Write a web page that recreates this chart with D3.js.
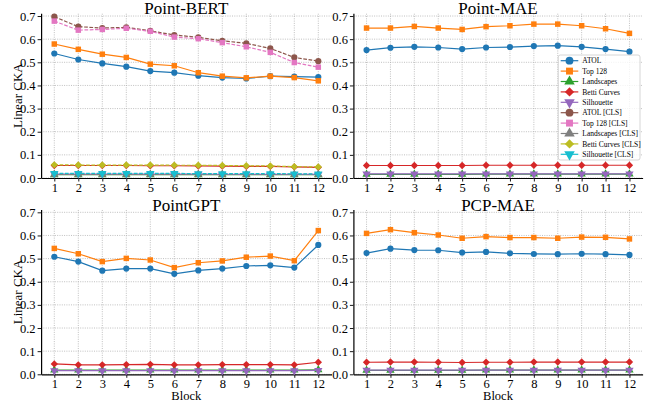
<!DOCTYPE html>
<html><head><meta charset="utf-8">
<script src="https://cdn.jsdelivr.net/npm/d3@7/dist/d3.min.js"></script>
<style>body{margin:0;background:#fff}svg{display:block}</style>
</head><body><svg id="c" width="656" height="402"></svg>
<script>
const blocks = [1,2,3,4,5,6,7,8,9,10,11,12];
const yTicks = [0.0,0.1,0.2,0.3,0.4,0.5,0.6,0.7];
const seriesNames = ["ATOL","Top 128","Landscapes","Betti Curves","Silhouette","ATOL [CLS]","Top 128 [CLS]","Landscapes [CLS]","Betti Curves [CLS]","Silhouette [CLS]"];
const seriesColors = ["#1f77b4","#ff7f0e","#2ca02c","#d62728","#9467bd","#8c564b","#e377c2","#7f7f7f","#bcbd22","#17becf"];
const seriesMarkers = ["circle","square","triup","diamond","tridown","circle","square","triup","diamond","tridown"];

// Point-BERT
const bertATOL = [0.538,0.512,0.495,0.481,0.462,0.455,0.442,0.434,0.430,0.440,0.438,0.436];
const bertTop128 = [0.579,0.556,0.535,0.521,0.492,0.485,0.455,0.440,0.433,0.440,0.434,0.420];
const bertLand = [0.014,0.014,0.014,0.014,0.014,0.014,0.014,0.014,0.014,0.014,0.014,0.014];
const bertBetti = [0.054,0.054,0.054,0.054,0.053,0.053,0.052,0.051,0.050,0.050,0.048,0.046];
const bertSil = [0.017,0.017,0.017,0.017,0.017,0.017,0.017,0.016,0.016,0.016,0.016,0.016];
const bertATOLcls = [0.697,0.654,0.648,0.651,0.636,0.618,0.608,0.593,0.582,0.560,0.521,0.505];
const bertTop128cls = [0.678,0.639,0.642,0.647,0.634,0.609,0.602,0.585,0.567,0.543,0.499,0.479];
const bertLandcls = [0.016,0.016,0.016,0.016,0.016,0.016,0.016,0.016,0.016,0.016,0.016,0.016];
const bertBetticls = [0.057,0.056,0.056,0.056,0.056,0.055,0.055,0.054,0.053,0.052,0.049,0.048];
const bertSilcls = [0.020,0.020,0.020,0.020,0.020,0.020,0.019,0.019,0.019,0.019,0.018,0.018];

// Point-MAE
const maeATOL = [0.553,0.563,0.567,0.564,0.557,0.564,0.566,0.570,0.572,0.567,0.557,0.546];
const maeTop128 = [0.648,0.648,0.655,0.648,0.642,0.654,0.658,0.665,0.665,0.658,0.645,0.625];
const maeLand = [0.016,0.016,0.016,0.016,0.016,0.017,0.017,0.017,0.017,0.017,0.017,0.017];
const maeBetti = [0.054,0.054,0.054,0.054,0.054,0.055,0.055,0.055,0.055,0.055,0.055,0.055];
const maeSil = [0.018,0.018,0.018,0.018,0.018,0.018,0.018,0.018,0.018,0.018,0.018,0.018];

// PointGPT
const gptATOL = [0.508,0.487,0.448,0.457,0.457,0.434,0.449,0.457,0.468,0.471,0.461,0.559];
const gptTop128 = [0.544,0.521,0.487,0.501,0.494,0.461,0.482,0.490,0.506,0.511,0.491,0.621];
const gptLand = [0.018,0.018,0.018,0.018,0.018,0.018,0.018,0.018,0.018,0.018,0.018,0.019];
const gptBetti = [0.045,0.041,0.041,0.042,0.043,0.041,0.041,0.042,0.042,0.042,0.041,0.052];
const gptSil = [0.016,0.016,0.016,0.016,0.016,0.016,0.016,0.016,0.016,0.016,0.016,0.017];

// PCP-MAE
const pcpATOL = [0.524,0.543,0.537,0.536,0.526,0.529,0.523,0.520,0.519,0.521,0.519,0.516];
const pcpTop128 = [0.609,0.625,0.612,0.602,0.588,0.595,0.591,0.591,0.588,0.593,0.592,0.585];
const pcpLand = [0.017,0.017,0.017,0.017,0.017,0.018,0.018,0.018,0.018,0.018,0.018,0.018];
const pcpBetti = [0.052,0.053,0.053,0.052,0.051,0.052,0.052,0.053,0.053,0.053,0.053,0.053];
const pcpSil = [0.018,0.018,0.018,0.018,0.018,0.018,0.018,0.018,0.018,0.018,0.018,0.018];

const FONT = "'Liberation Serif','Times New Roman',serif";
const svg = d3.select("#c");

const panels = [
  {title:"Point-BERT", x0:41.1, x1:331.5, yBottom:178, series:[bertATOL,bertTop128,bertLand,bertBetti,bertSil,bertATOLcls,bertTop128cls,bertLandcls,bertBetticls,bertSilcls], ylabel:true, xlabel:false, legend:false, titleY:13.5},
  {title:"Point-MAE", x0:353.4, x1:642.6, yBottom:178, series:[maeATOL,maeTop128,maeLand,maeBetti,maeSil], ylabel:false, xlabel:false, legend:true, titleY:13.5},
  {title:"PointGPT", x0:41.1, x1:331.5, yBottom:374.3, series:[gptATOL,gptTop128,gptLand,gptBetti,gptSil], ylabel:true, xlabel:true, legend:false, titleY:210.5},
  {title:"PCP-MAE", x0:353.4, x1:642.6, yBottom:374.3, series:[pcpATOL,pcpTop128,pcpLand,pcpBetti,pcpSil], ylabel:false, xlabel:true, legend:false, titleY:210.5}
];

function symbolPath(kind, size){
  if(kind==="circle") return d3.symbol(d3.symbolCircle, size)();
  if(kind==="square") return d3.symbol(d3.symbolSquare, size)();
  if(kind==="triup" || kind==="tridown") return d3.symbol(d3.symbolTriangle, size)();
  if(kind==="diamond") return d3.symbol(d3.symbolSquare, size*0.75)();
  return d3.symbol(d3.symbolCircle, size)();
}
function symbolRot(kind){
  if(kind==="tridown") return 180;
  if(kind==="diamond") return 45;
  return 0;
}
const baseSize = {circle:30, square:30, triup:30, tridown:30, diamond:36};

panels.forEach(p => {
  const x = d3.scaleLinear().domain([0.45,12.55]).range([p.x0,p.x1]);
  const y = d3.scaleLinear().domain([0,0.712]).range([p.yBottom, p.yBottom - 0.712*231.4]);
  const g = svg.append("g");
  g.append("g").selectAll("line").data(blocks).join("line")
    .attr("x1",d=>x(d)).attr("x2",d=>x(d)).attr("y1",y(0)).attr("y2",y(0.712))
    .attr("stroke","#b0b0b0").attr("stroke-width",0.8).attr("stroke-dasharray","1,1.3");
  g.append("g").selectAll("line").data(yTicks).join("line")
    .attr("x1",p.x0).attr("x2",p.x1).attr("y1",d=>y(d)).attr("y2",d=>y(d))
    .attr("stroke","#b0b0b0").attr("stroke-width",0.8).attr("stroke-dasharray","1,1.3");
  const xa = g.append("g").attr("transform",`translate(0,${y(0)})`)
    .call(d3.axisBottom(x).tickValues(blocks).tickSize(3.5).tickSizeOuter(0).tickPadding(1.5).tickFormat(d3.format("d")));
  const ya = g.append("g").attr("transform",`translate(${p.x0},0)`)
    .call(d3.axisLeft(y).tickValues(yTicks).tickSize(3.5).tickSizeOuter(0).tickPadding(2).tickFormat(d3.format(".1f")));
  [xa,ya].forEach(a=>{
    a.attr("font-family",FONT);
    a.select(".domain").attr("stroke","#000").attr("stroke-width",1.2);
    a.selectAll(".tick line").attr("stroke","#000").attr("stroke-width",0.9);
    a.selectAll("text").attr("font-family",FONT).attr("font-size",12.5).attr("fill","#000");
  });
  p.series.forEach((vals,i) => {
    const col = seriesColors[i];
    const dashed = i>=5;
    const line = d3.line().x((d,j)=>x(blocks[j])).y(d=>y(d));
    g.append("path").datum(vals).attr("d",line).attr("fill","none")
      .attr("stroke",col).attr("stroke-width",1.2)
      .attr("stroke-dasharray",dashed?"3.7,1.6":null);
    const kind = seriesMarkers[i];
    g.append("g").selectAll("path").data(vals).join("path")
      .attr("d",symbolPath(kind, baseSize[kind]))
      .attr("transform",(d,j)=>`translate(${x(blocks[j])},${y(d)}) rotate(${symbolRot(kind)})`)
      .attr("fill",col);
  });
  svg.append("text").attr("x",(p.x0+p.x1)/2).attr("y",p.titleY).attr("text-anchor","middle")
    .attr("font-family",FONT).attr("font-size",17).text(p.title);
  if(p.ylabel){
    svg.append("text").attr("transform",`translate(17.5,${(y(0)+y(0.712))/2}) rotate(-90)`)
      .attr("text-anchor","middle").attr("dy","0.35em").attr("font-family",FONT).attr("font-size",13).text("Linear CKA");
  }
  if(p.xlabel){
    svg.append("text").attr("x",(p.x0+p.x1)/2).attr("y",399.5).attr("text-anchor","middle")
      .attr("font-family",FONT).attr("font-size",12.5).text("Block");
  }
  if(p.legend){
    const lx=558.3, ly=55, lw=81.7, lh=105;
    const lg = svg.append("g");
    lg.append("rect").attr("x",lx).attr("y",ly).attr("width",lw).attr("height",lh).attr("rx",2)
      .attr("fill","#fff").attr("fill-opacity",0.8).attr("stroke","#cccccc").attr("stroke-width",0.8);
    seriesNames.forEach((nm,i)=>{
      const ry = 60.7 + i*10.4;
      lg.append("line").attr("x1",560.7).attr("x2",578.3).attr("y1",ry).attr("y2",ry)
        .attr("stroke",seriesColors[i]).attr("stroke-width",1.2);
      const kind = seriesMarkers[i];
      lg.append("path").attr("d",symbolPath(kind, baseSize[kind]*1.6))
        .attr("transform",`translate(569.5,${ry}) rotate(${symbolRot(kind)})`).attr("fill",seriesColors[i]);
      lg.append("text").attr("x",582.3).attr("y",ry).attr("dy","0.35em")
        .attr("font-family",FONT).attr("font-size",7.5).text(nm);
    });
  }
});
</script></body></html>
